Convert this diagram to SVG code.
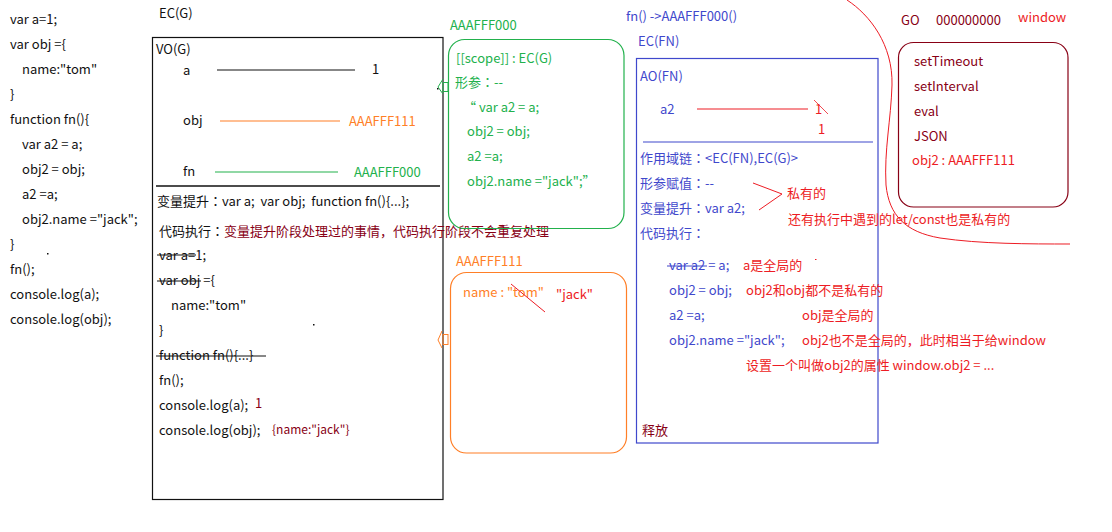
<svg xmlns="http://www.w3.org/2000/svg" width="1112" height="532" viewBox="0 0 1112 532">
<style>
text{font-family:"Noto Sans CJK SC","Noto Sans",sans-serif;font-size:13px;fill:#111;white-space:pre}
.c{font-family:"Noto Sans CJK TC","Noto Sans CJK SC",sans-serif}
.k{fill:#111}
.dr{fill:#880015}
.r{fill:#ED1C24}
.o{fill:#FF7F27}
.g{fill:#22B14C}
.b{fill:#3F48CC}
</style>
<rect width="1112" height="532" fill="#fff"/>

<g id="code">
<text x="10" y="24">var a=1;</text>
<text x="10" y="49">var obj ={</text>
<text x="22" y="74">name:"tom"</text>
<text x="10" y="99">}</text>
<text x="10" y="124">function fn(){</text>
<text x="22" y="149">var a2 = a;</text>
<text x="22" y="174">obj2 = obj;</text>
<text x="22" y="199">a2 =a;</text>
<text x="22" y="224">obj2.name ="jack";</text>
<text x="10" y="249">}</text>
<rect x="47" y="253" width="1.5" height="1.5" fill="#111"/>
<text x="10" y="274">fn();</text>
<text x="10" y="299">console.log(a);</text>
<text x="10" y="324">console.log(obj);</text>
</g>

<g id="ecg">
<text x="159" y="18">EC(G)</text>
<rect x="152.5" y="37.5" width="290.5" height="462" fill="none" stroke="#111" stroke-width="1.2"/>
<text x="156" y="54">VO(G)</text>
<text x="183" y="75">a</text>
<text x="372" y="74">1</text>
<text x="183" y="125">obj</text>
<text class="o" x="349" y="126">AAAFFF111</text>
<text x="183" y="176">fn</text>
<text class="g" x="354" y="177">AAAFFF000</text>
<line x1="156" y1="186" x2="440" y2="186" stroke="#111" stroke-width="1.5"/>
<text x="157" y="206" xml:space="preserve">变量提升<tspan class="c">：</tspan>var a;  var obj;  function fn(){...};</text>
<text x="159" y="236">代码执行<tspan class="c">：</tspan><tspan class="dr">变量提升阶段处理过的事情，代码执行阶段不会重复处理</tspan></text>
<text x="159" y="260">var a=1;</text>
<line x1="157" y1="255" x2="196" y2="255" stroke="#111" stroke-width="1"/>
<text x="159" y="285">var obj ={</text>
<line x1="157" y1="281" x2="201" y2="281" stroke="#111" stroke-width="1"/>
<text x="171" y="310">name:"tom"</text>
<text x="159" y="335">}</text>
<rect x="313" y="324" width="1.5" height="1.5" fill="#111"/>
<text x="159" y="360">function fn(){...}</text>
<line x1="156" y1="356" x2="266" y2="356" stroke="#111" stroke-width="1"/>
<text x="159" y="385">fn();</text>
<text x="159" y="410">console.log(a);</text>
<text class="dr" x="255" y="408">1</text>
<text x="159" y="435">console.log(obj);</text>
<text class="dr" x="272" y="434" style="font-size:12px">{name:"jack"}</text>
</g>

<g id="fnobj">
<text class="g" x="450" y="30">AAAFFF000</text>
<rect x="448.5" y="39.5" width="175.5" height="189" rx="16" fill="none" stroke="#22B14C" stroke-width="1.2"/>
<text class="g" x="456" y="63">[[scope]] : EC(G)</text>
<text class="g" x="455" y="87">形参<tspan class="c">：</tspan>--</text>
<text class="g" x="463" y="112">“ var a2 = a;</text>
<text class="g" x="467" y="136">obj2 = obj;</text>
<text class="g" x="467" y="161">a2 =a;</text>
<text class="g" x="467" y="186">obj2.name ="jack";”</text>
</g>

<g id="objheap">
<text class="o" x="456" y="266">AAAFFF111</text>
<rect x="450.5" y="272.5" width="176" height="180.5" rx="16" fill="none" stroke="#FF7F27" stroke-width="1.2"/>
<text class="o" x="463" y="297">name : "tom"</text>
<line x1="511" y1="284" x2="545" y2="312" stroke="#ED1C24" stroke-width="1"/>
<text class="r" x="556" y="299">"jack"</text>
</g>

<g id="ecfn">
<text class="b" x="626" y="21">fn() -&gt;AAAFFF000()</text>
<text class="b" x="638" y="46">EC(FN)</text>
<rect x="636.5" y="58.5" width="241.5" height="384.5" fill="none" stroke="#3F48CC" stroke-width="1.2"/>
<text class="b" x="640" y="81">AO(FN)</text>
<text class="b" x="660" y="114">a2</text>
<text class="r" x="815" y="114">1</text>
<line x1="814" y1="100" x2="828" y2="114" stroke="#ED1C24" stroke-width="0.8"/>
<text class="r" x="818" y="134">1</text>
<line x1="643" y1="142" x2="873" y2="142" stroke="#3F48CC" stroke-width="1.2"/>
<text class="b" x="640" y="163">作用域链<tspan class="c">：</tspan>&lt;EC(FN),EC(G)&gt;</text>
<text class="b" x="640" y="188">形参赋值<tspan class="c">：</tspan>--</text>
<text class="b" x="640" y="213">变量提升<tspan class="c">：</tspan>var a2;</text>
<text class="b" x="640" y="238">代码执行<tspan class="c">：</tspan></text>
<text class="b" x="669" y="270">var a2 = a;</text>
<line x1="667" y1="266" x2="707" y2="266" stroke="#3F48CC" stroke-width="1"/>
<text class="b" x="669" y="295">obj2 = obj;</text>
<text class="b" x="669" y="320">a2 =a;</text>
<text class="b" x="669" y="345">obj2.name ="jack";</text>
<text class="dr" x="642" y="435">释放</text>
</g>

<g id="notes">
<polyline points="753,183 782,194 759,210" fill="none" stroke="#ED1C24" stroke-width="1"/>
<text class="r" x="787" y="198">私有的</text>
<text class="r" x="788" y="224">还有执行中遇到的let/const也是私有的</text>
<text class="r" x="743" y="270">a是全局的</text>
<rect x="815" y="259" width="1.5" height="1" fill="#ED1C24"/>
<text class="r" x="746" y="295">obj2和obj都不是私有的</text>
<text class="r" x="802" y="320">obj是全局的</text>
<text class="r" x="802" y="345">obj2也不是全局的，此时相当于给window</text>
<text class="r" x="746" y="370">设置一个叫做obj2的属性 window.obj2 = ...</text>
</g>

<g id="go">
<text class="dr" x="901" y="25">GO</text>
<text class="dr" x="936" y="25">000000000</text>
<text class="r" x="1018" y="22">window</text>
<rect x="898.5" y="42.5" width="169.5" height="164.5" rx="15" fill="none" stroke="#880015" stroke-width="1.2"/>
<text class="dr" x="914" y="66">setTimeout</text>
<text class="dr" x="914" y="91">setInterval</text>
<text class="dr" x="914" y="116">eval</text>
<text class="dr" x="914" y="141">JSON</text>
<text class="r" x="912" y="165">obj2 : AAAFFF111</text>
</g>

<g id="connectors">
<line x1="217" y1="70" x2="355" y2="70" stroke="#111" stroke-width="1.2"/>
<line x1="220" y1="121" x2="340" y2="121" stroke="#FF7F27" stroke-width="1.2"/>
<line x1="215" y1="172" x2="338" y2="172" stroke="#22B14C" stroke-width="1.2"/>
<line x1="697" y1="109" x2="808" y2="109" stroke="#ED1C24" stroke-width="1.2"/>
<polyline points="443,79 438,87 443,94" fill="none" stroke="#22B14C" stroke-width="1"/>
<rect x="443" y="82.5" width="5" height="9" fill="none" stroke="#22B14C" stroke-width="1"/>
<rect x="437" y="88" width="1.5" height="1.5" fill="#111"/>
<polyline points="442,331 438,340 442,348" fill="none" stroke="#FF7F27" stroke-width="1"/>
<rect x="443" y="334.5" width="5" height="10" fill="none" stroke="#FF7F27" stroke-width="1"/>
<path d="M847,0 C870,15 893,45 892,85 C891,120 884,150 886,185 C889,215 905,232 940,238 C980,244 1030,244 1070,244" fill="none" stroke="#ED1C24" stroke-width="1"/>
</g>
</svg>
